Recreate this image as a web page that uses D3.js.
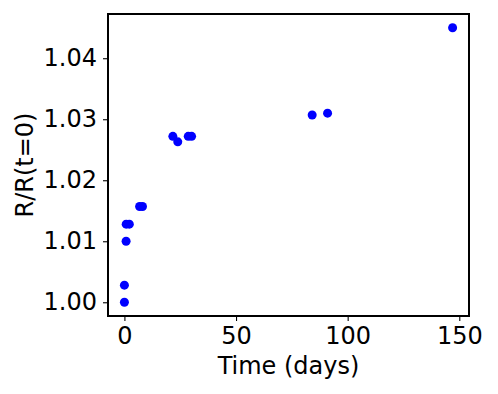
<!DOCTYPE html>
<html>
<head>
<meta charset="utf-8">
<script src="https://cdn.jsdelivr.net/npm/d3@7"></script>
<style>
  body { margin: 0; background: #fff; }
  text { font-family: "DejaVu Sans", sans-serif; fill: #000; }
</style>
</head>
<body>
<div id="chart"></div>
<script>
// measured points: time in days, resistance relative to t=0
var timeDays = [0, 0, 0.75, 0.8, 2.2, 6.8, 8.1, 21.7, 23.9, 28.6, 30.1, 84.1, 91, 147];
var ratio = [1.0000, 1.0028, 1.0100, 1.0128, 1.0128, 1.0157, 1.0157,
             1.0272, 1.0263, 1.0272, 1.0272, 1.0307, 1.0310, 1.0450];
var xTicks = [0, 50, 100, 150];
var yTicks = [1.00, 1.01, 1.02, 1.03, 1.04];

var width = 498,
    height = 394;
// plot frame (note: "top" is taken by window.top)
var plotL = 108, plotR = 469, plotT = 14, plotB = 316;

var svg = d3.select("#chart").append("svg")
    .attr("width", width)
    .attr("height", height);

// matplotlib-style 5% margins around the data
function padded(vals) {
  var ext = d3.extent(vals), d = (ext[1] - ext[0]) * 0.05;
  return [ext[0] - d, ext[1] + d];
}

var x = d3.scaleLinear().domain(padded(timeDays)).range([plotL, plotR]);
var y = d3.scaleLinear().domain(padded(ratio)).range([plotB, plotT]);

var xAxis = svg.append("g")
    .attr("transform", "translate(0," + plotB + ")")
    .call(d3.axisBottom(x).tickValues(xTicks).tickFormat(d3.format("d")).tickSize(5).tickPadding(6));

var yAxis = svg.append("g")
    .attr("transform", "translate(" + plotL + ",0)")
    .call(d3.axisLeft(y).tickValues(yTicks).tickFormat(d3.format(".2f")).tickSize(5).tickPadding(6));

[xAxis, yAxis].forEach(function(g) {
  g.select(".domain").remove();
  g.selectAll(".tick line").attr("stroke", "#000").attr("stroke-width", 1.1);
  g.selectAll(".tick text")
      .style("font-family", "DejaVu Sans")
      .style("font-size", "24px")
      .attr("fill", "#000");
});

svg.selectAll("circle.pt")
    .data(timeDays)
    .enter().append("circle")
      .attr("class", "pt")
      .attr("cx", function(d) { return x(d); })
      .attr("cy", function(d, i) { return y(ratio[i]); })
      .attr("r", 4.5)
      .attr("fill", "#0000ff");

// frame
svg.append("rect")
    .attr("x", plotL)
    .attr("y", plotT)
    .attr("width", plotR - plotL)
    .attr("height", plotB - plotT)
    .attr("fill", "none")
    .attr("stroke", "#000")
    .attr("stroke-width", 2);

svg.append("text")
    .attr("x", (plotL + plotR) / 2)
    .attr("y", 374)
    .attr("text-anchor", "middle")
    .style("font-size", "24px")
    .text("Time (days)");

svg.append("text")
    .attr("transform", "translate(33," + (plotT + plotB) / 2 + ") rotate(-90)")
    .attr("text-anchor", "middle")
    .style("font-size", "24px")
    .text("R/R(t=0)");
</script>
</body>
</html>
